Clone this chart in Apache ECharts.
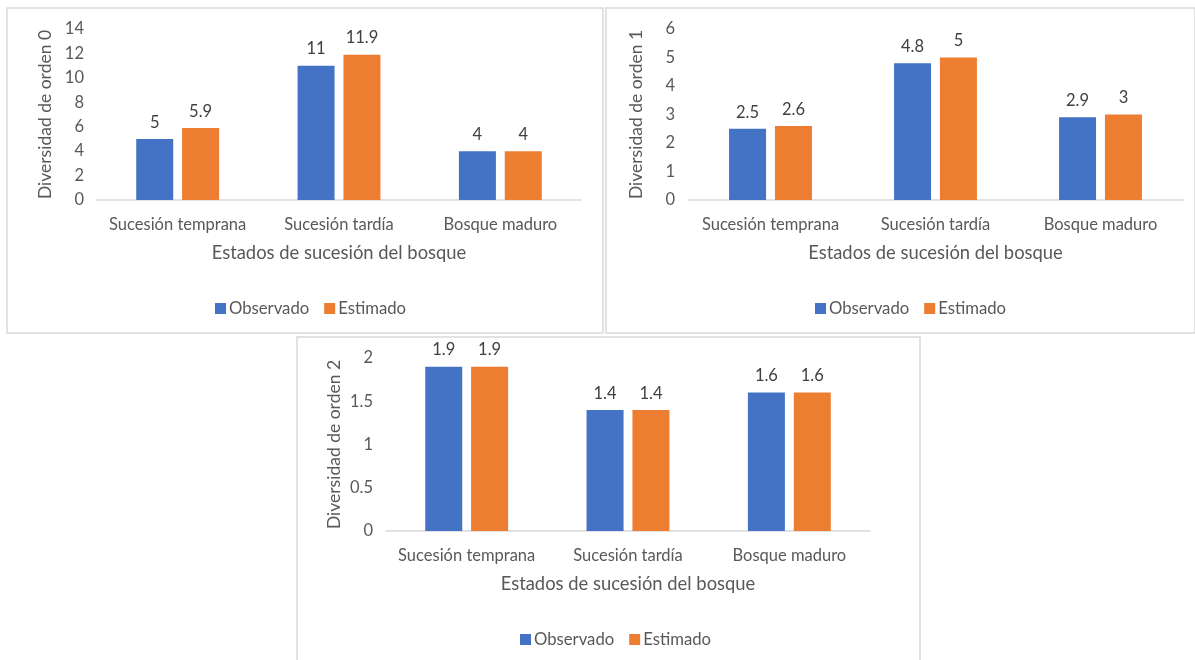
<!DOCTYPE html>
<html><head><meta charset="utf-8">
<script src="https://cdn.jsdelivr.net/npm/echarts@6/dist/echarts.min.js"></script>
<style>html,body{margin:0;padding:0;background:#fff}#c{width:1195px;height:660px}</style>
</head><body><div id="c"></div>
<script>
const categories = ['Sucesión temprana', 'Sucesión tardía', 'Bosque maduro'];
const seriesNames = ['Observado', 'Estimado'];
const obs0 = [5, 11, 4];
const est0 = [5.9, 11.9, 4];
const obs1 = [2.5, 4.8, 2.9];
const est1 = [2.6, 5, 3];
const obs2 = [1.9, 1.4, 1.6];
const est2 = [1.9, 1.4, 1.6];
const yTitles = ['Diversidad de orden 0', 'Diversidad de orden 1', 'Diversidad de orden 2'];
const xTitle = 'Estados de sucesión del bosque';
const yMax = [14, 6, 2];
const yInterval = [2, 1, 0.5];

const FONT = 'Lato';
const TXT = '#595959';
const BLUE = '#4472C4', ORANGE = '#ED7D31';

const grids = [
  {left: 97, right: 614, top: 29, bottom: 460},
  {left: 688, right: 12, top: 29, bottom: 460},
  {left: 386, right: 325, top: 358, bottom: 129}
];
const legendPos = [{left: 210, top: 295}, {left: 810, top: 295}, {left: 515, top: 626}];
const panels = [[7, 8, 596, 325], [606, 8, 589, 325], [297, 337, 623, 325]];

const data = [[obs0, est0], [obs1, est1], [obs2, est2]];

const xAxes = [], yAxes = [], series = [], legends = [];
for (let i = 0; i < 3; i++) {
  xAxes.push({
    type: 'category', gridIndex: i, data: categories,
    axisLine: {lineStyle: {color: '#D9D9D9', width: 1.5}},
    axisTick: {show: false},
    axisLabel: {interval: 0, color: TXT, fontFamily: FONT, fontSize: 16.5, margin: 16},
    name: xTitle, nameLocation: 'middle', nameGap: 44,
    nameTextStyle: {color: TXT, fontFamily: FONT, fontSize: 18.4}
  });
  yAxes.push({
    type: 'value', gridIndex: i, min: 0, max: yMax[i], interval: yInterval[i],
    axisLine: {show: false}, axisTick: {show: false}, splitLine: {show: false},
    axisLabel: {color: TXT, fontFamily: FONT, fontSize: 16.5, margin: 13},
    name: yTitles[i], nameLocation: 'middle', nameRotate: 90, nameGap: 43,
    nameTextStyle: {color: TXT, fontFamily: FONT, fontSize: 17.5}
  });
  for (let s = 0; s < 2; s++) {
    series.push({
      type: 'bar', name: seriesNames[s], xAxisIndex: i, yAxisIndex: i,
      data: data[i][s], barWidth: 37, barGap: '24%',
      itemStyle: {color: s === 0 ? BLUE : ORANGE},
      label: {show: true, position: 'top', distance: 8, color: '#404040', fontFamily: FONT, fontSize: 16.5}
    });
  }
  legends.push({
    left: legendPos[i].left, top: legendPos[i].top, data: seriesNames,
    icon: 'rect', itemWidth: 11, itemHeight: 11, itemGap: 15,
    textStyle: {color: TXT, fontFamily: FONT, fontSize: 16.7, padding: [0, 0, 0, -2]}
  });
}

const graphic = panels.map(p => ({
  type: 'rect', shape: {x: p[0], y: p[1], width: p[2], height: p[3]},
  style: {fill: 'none', stroke: '#D9D9D9', lineWidth: 1.5}, silent: true, z: -1
}));

const chart = echarts.init(document.getElementById('c'));
chart.setOption({
  animation: false,
  backgroundColor: '#fff',
  grid: grids, xAxis: xAxes, yAxis: yAxes, series: series, legend: legends, graphic: graphic
});
</script></body></html>
